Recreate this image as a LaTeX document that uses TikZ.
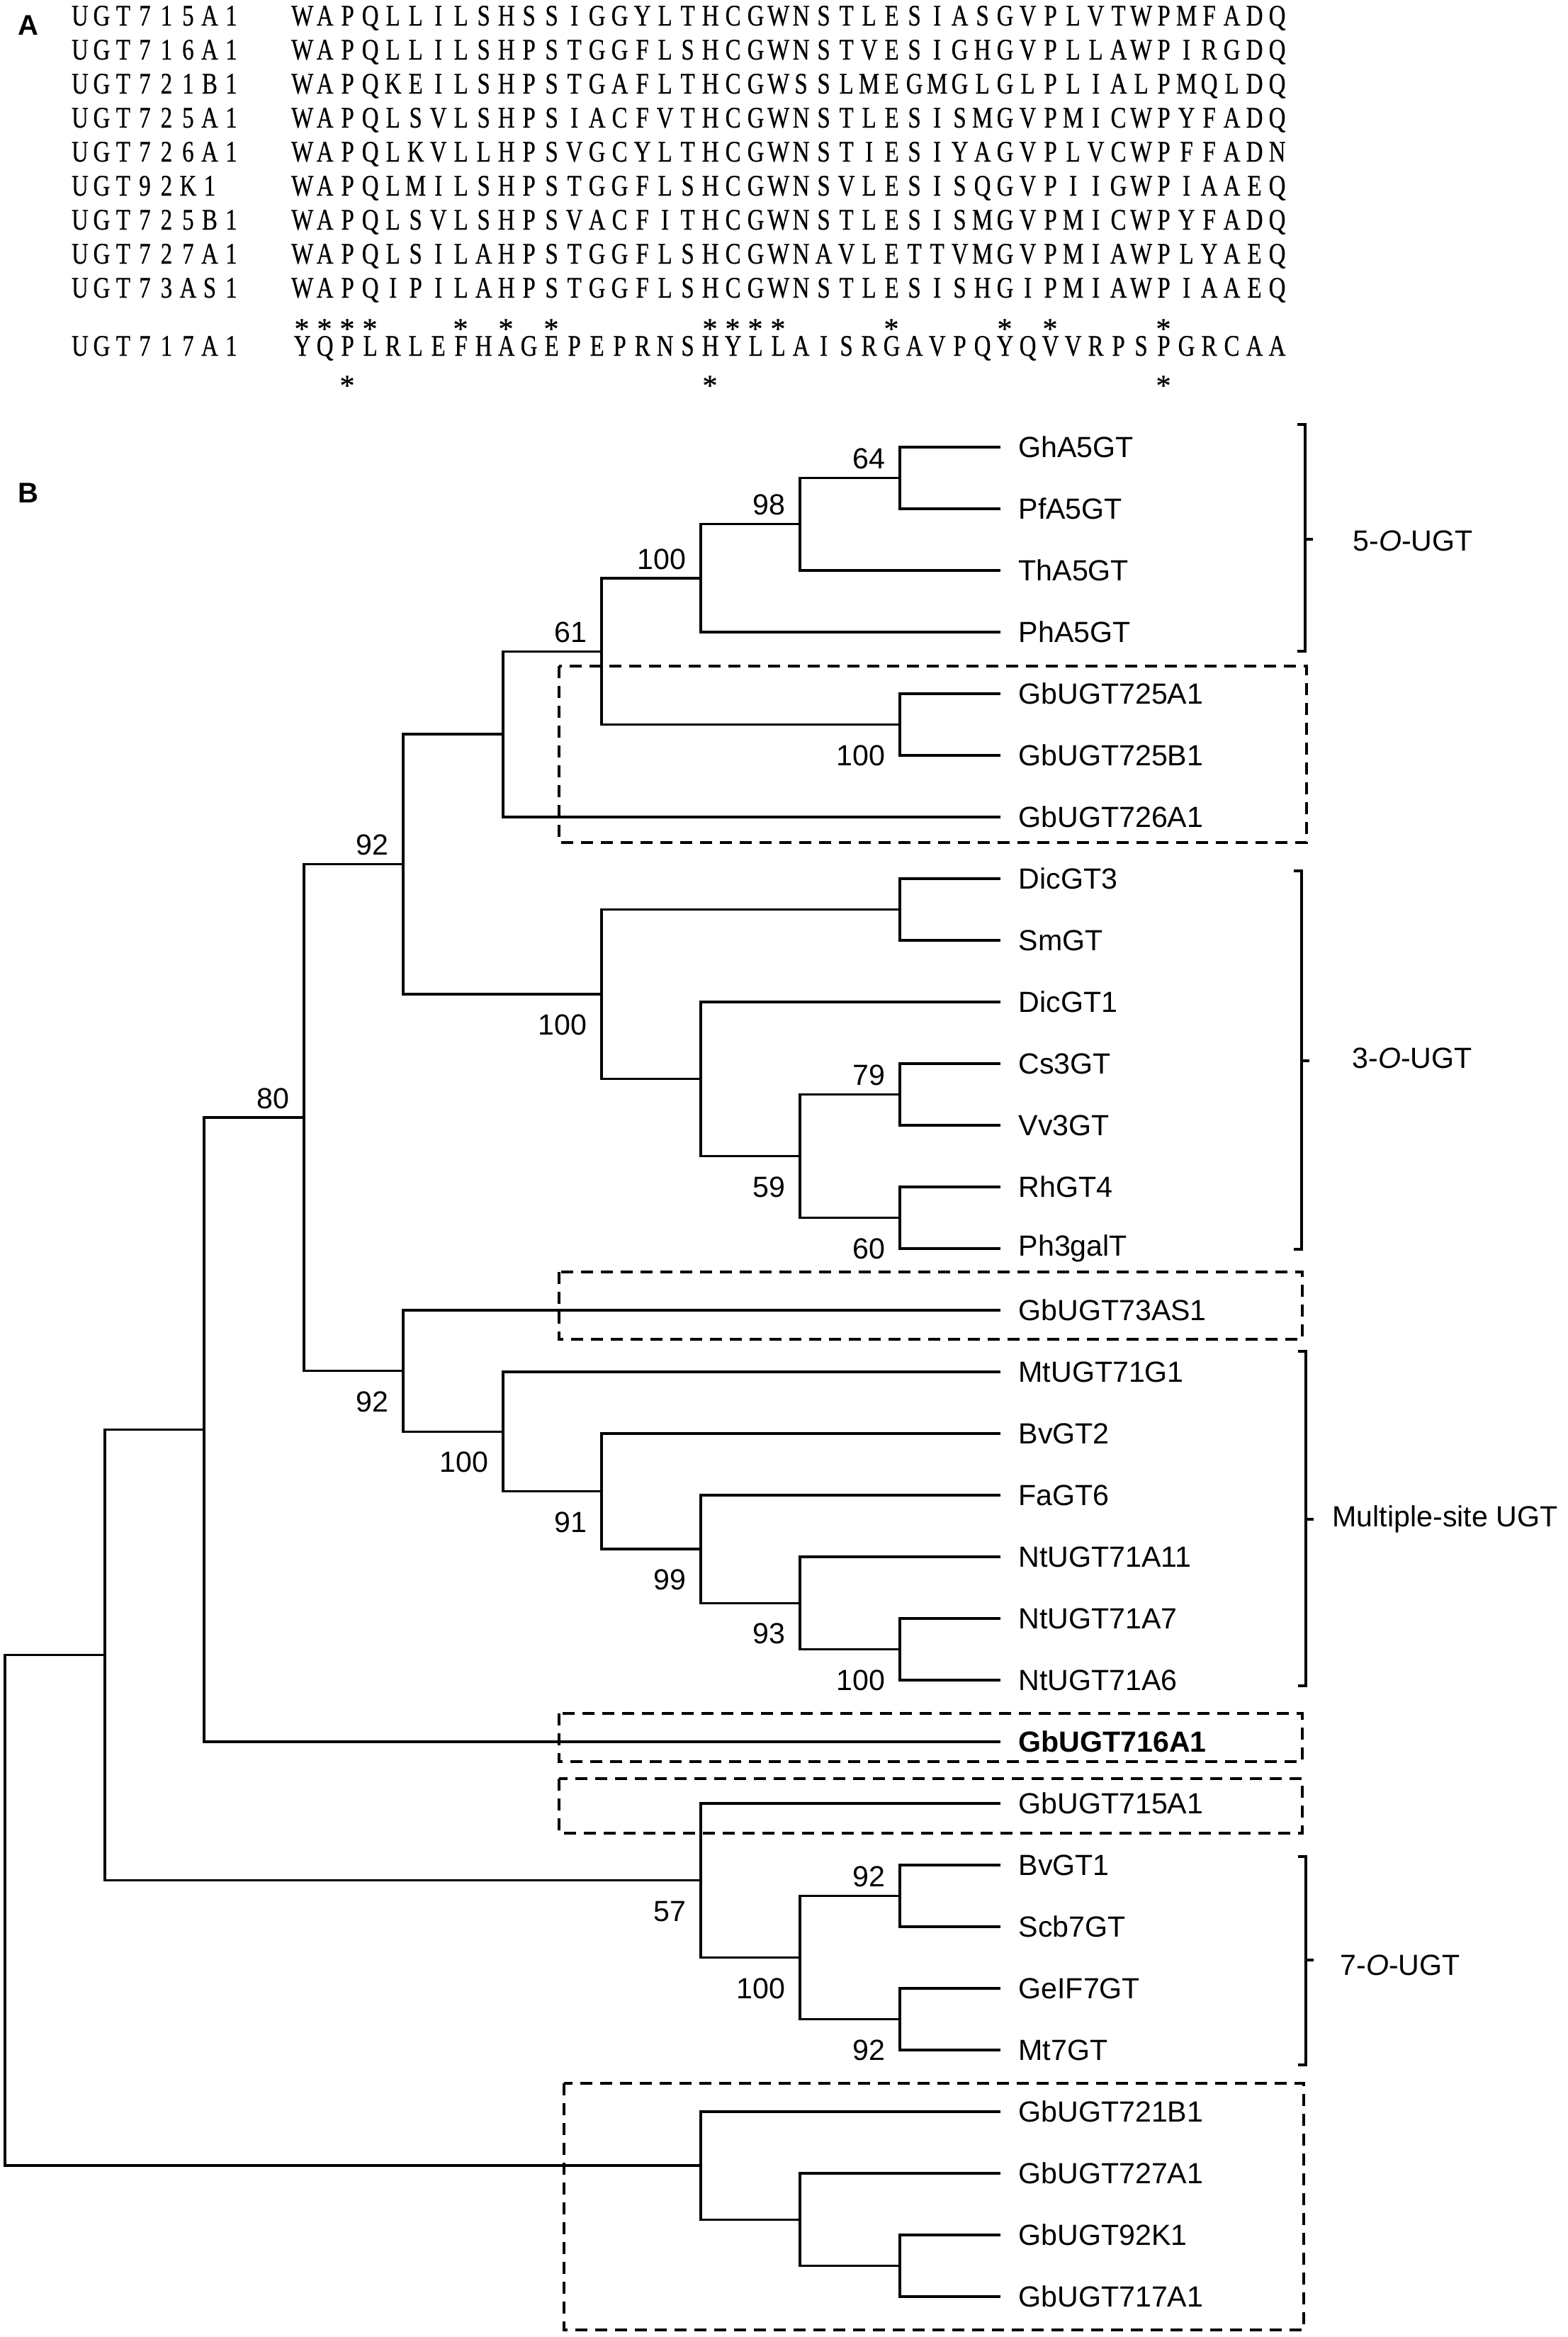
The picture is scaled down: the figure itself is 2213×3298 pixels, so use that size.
\documentclass[tikz,border=0pt]{standalone}
\usepackage{fontspec}
\setmainfont{Liberation Sans}
\newfontfamily\seqfont[FakeStretch=0.78,FakeBold=0.5]{Liberation Serif}
\newfontfamily\starfont[FakeBold=0.5]{Liberation Serif}
\usetikzlibrary{calc}
% fixed-width cells for the alignment letters
\newcommand\seqcells[2][3.2mm]{\def\seqw{#1}\expandafter\seqloop#2\relax}
\def\seqloop#1{\ifx#1\relax\else\makebox[\seqw]{#1}\expandafter\seqloop\fi}
\tikzset{
  branch/.style={line width=0.95pt},
  leaf/.style={anchor=west, inner sep=0pt, font=\fontsize{11.7}{14}\selectfont},
  bs/.style={anchor=east, inner sep=0pt, font=\fontsize{11.7}{14}\selectfont},
  gbbox/.style={line width=1.1pt, dash pattern=on 1.7mm off 1.1mm},
  brk/.style={line width=0.95pt},
  grp/.style={anchor=west, inner sep=0pt, font=\fontsize{11.7}{14}\selectfont},
  seqtxt/.style={anchor=base west, inner sep=0pt, font=\seqfont\fontsize{12}{14}\selectfont},
  star/.style={anchor=base, inner sep=0pt, font=\starfont\fontsize{12}{14}\selectfont},
  panel/.style={anchor=west, inner sep=0pt, font=\bfseries\fontsize{11.4}{14}\selectfont},
}

\begin{document}
\begin{tikzpicture}[x=0.1mm,y=-0.1mm]

\fill[white] (0,0) rectangle (2213,3298);
\useasboundingbox (0,0) rectangle (2213,3298);

% ---------- A: alignment ----------
\node[panel] (pa) at (25,35.5) {A};
\foreach \nm/\sq [count=\k from 0] in {
  UGT715A1/WAPQLLILSHSSIGGYLTHCGWNSTLESIASGVPLVTWPMFADQ,
  UGT716A1/WAPQLLILSHPSTGGFLSHCGWNSTVESIGHGVPLLAWPIRGDQ,
  UGT721B1/WAPQKEILSHPSTGAFLTHCGWSSLMEGMGLGLPLIALPMQLDQ,
  UGT725A1/WAPQLSVLSHPSIACFVTHCGWNSTLESISMGVPMICWPYFADQ,
  UGT726A1/WAPQLKVLLHPSVGCYLTHCGWNSTIESIYAGVPLVCWPFFADN,
  UGT92K1/WAPQLMILSHPSTGGFLSHCGWNSVLESISQGVPIIGWPIAAEQ,
  UGT725B1/WAPQLSVLSHPSVACFITHCGWNSTLESISMGVPMICWPYFADQ,
  UGT727A1/WAPQLSILAHPSTGGFLSHCGWNAVLETTVMGVPMIAWPLYAEQ,
  UGT73AS1/WAPQIPILAHPSTGGFLSHCGWNSTLESISHGIPMIAWPIAAEQ} {
  \node[seqtxt] (s\k) at (97,36+48*\k) {\seqcells[3.05mm]{\nm}};
  \node[seqtxt] (q\k) at (410,36+48*\k) {\seqcells{\sq}};
}
\node[seqtxt] (s9) at (97,502) {\seqcells[3.05mm]{UGT717A1}};
\node[seqtxt] (q9) at (410,502) {\seqcells{YQPLRLEFHAGEPEPRNSHYLLAISRGAVPQYQVVRPSPGRCAA}};

% conserved sites
\foreach \c in {0,1,2,3,7,9,11,18,19,20,21,26,31,33,38}
  \node[star] (u\c) at (426+32*\c,478) {*};
\foreach \c in {2,18,38}
  \node[star] (d\c) at (426+32*\c,558) {*};

% ---------- B: tree ----------
\node[panel] (pb) at (25,696) {B};

% leaves
\foreach \nm [count=\i from 0] in {GhA5GT, PfA5GT, ThA5GT, PhA5GT,
  GbUGT725A1, GbUGT725B1, GbUGT726A1, DicGT3, SmGT, DicGT1, Cs3GT,
  Vv3GT, RhGT4, Ph3galT, GbUGT73AS1, MtUGT71G1, BvGT2, FaGT6,
  NtUGT71A11, NtUGT71A7, NtUGT71A6, {\textbf{GbUGT716A1}}, GbUGT715A1,
  BvGT1, Scb7GT, GeIF7GT, Mt7GT, GbUGT721B1, GbUGT727A1, GbUGT92K1,
  GbUGT717A1} {
  \coordinate (t\i) at (1412,631+87*\i);
  \node[leaf] (l\i) at (1437,631+87*\i) {\nm};
}

% inner nodes
\coordinate (n64)   at (1270,674.5);
\coordinate (n98)   at (1129,739.75);
\coordinate (n100a) at (989,815.9);
\coordinate (n100b) at (1270,1022.5);
\coordinate (n61)   at (849,919.2);
\coordinate (n5)    at (710,1036.1);
\coordinate (ndic)  at (1270,1283.5);
\coordinate (n79)   at (1270,1544.5);
\coordinate (n60)   at (1270,1718.5);
\coordinate (n59)   at (1129,1631.5);
\coordinate (n7)    at (989,1522.75);
\coordinate (n100c) at (849,1403.1);
\coordinate (n92a)  at (569,1219.6);
\coordinate (n100e) at (1270,2327.5);
\coordinate (n93)   at (1129,2262.25);
\coordinate (n99)   at (989,2186.1);
\coordinate (n91)   at (849,2104.55);
\coordinate (n100d) at (710,2020.3);
\coordinate (n92b)  at (569,1934.6);
\coordinate (n80)   at (429,1577.1);
\coordinate (n2)    at (288,2017.55);
\coordinate (n92c)  at (1270,2675.5);
\coordinate (n92d)  at (1270,2849.5);
\coordinate (n100f) at (1129,2762.5);
\coordinate (n57)   at (989,2653.75);
\coordinate (n1)    at (148,2335.65);
\coordinate (ng3)   at (1270,3197.5);
\coordinate (ng2)   at (1129,3132.25);
\coordinate (ng1)   at (989,3056.1);
\coordinate (root)  at (7,2695.9);

% branches
\foreach \p/\c in {root/n1, root/ng1, n1/n2, n1/n57, n2/n80, n2/t21,
  n80/n92a, n80/n92b, n92a/n5, n92a/n100c, n5/n61, n5/t6,
  n61/n100a, n61/n100b, n100a/n98, n100a/t3, n98/n64, n98/t2,
  n64/t0, n64/t1, n100b/t4, n100b/t5, n100c/ndic, n100c/n7,
  ndic/t7, ndic/t8, n7/t9, n7/n59, n59/n79, n59/n60,
  n79/t10, n79/t11, n60/t12, n60/t13, n92b/t14, n92b/n100d,
  n100d/t15, n100d/n91, n91/t16, n91/n99, n99/t17, n99/n93,
  n93/t18, n93/n100e, n100e/t19, n100e/t20, n57/t22, n57/n100f,
  n100f/n92c, n100f/n92d, n92c/t23, n92c/t24, n92d/t25, n92d/t26,
  ng1/t27, ng1/ng2, ng2/t28, ng2/ng3, ng3/t29, ng3/t30}
  \draw[branch] (\p) |- (\c);

% bootstrap values
\foreach \n/\v in {n64/64, n98/98, n100a/100, n61/61, n92a/92, n80/80,
  n79/79, n92c/92}
  \node[bs] (b\n) at ($(\n)+(-20,-27)$) {\v};
\foreach \n/\v in {n100b/100, n100c/100, n59/59, n60/60, n92b/92,
  n100d/100, n91/91, n99/99, n93/93, n100e/100, n57/57, n100f/100,
  n92d/92}
  \node[bs] (b\n) at ($(\n)+(-20,43.5)$) {\v};

% Ginkgo boxes
\draw[gbbox] (789,940) rectangle (1844,1189);
\draw[gbbox] (789,1795) rectangle (1838,1890);
\draw[gbbox] (789,2418) rectangle (1838,2486);
\draw[gbbox] (789,2510) rectangle (1838,2587);
\draw[gbbox] (796,2940) rectangle (1840,3288);

% groups
\foreach \bx/\bt/\bb/\bm/\lx/\ly/\lab [count=\g] in {
  1842/599/919/761/1909/763/{5-\textit{O}-UGT},
  1837/1229/1763/1497/1908/1493/{3-\textit{O}-UGT},
  1843/1907/2379/2144/1880/2144/{Multiple-site UGT},
  1843/2620/2914/2766/1891/2773/{7-\textit{O}-UGT}} {
  \draw[brk] (\bx-11,\bt) -- (\bx,\bt) -- (\bx,\bb) -- (\bx-11,\bb);
  \draw[brk] (\bx,\bm) -- (\bx+11,\bm);
  \node[grp] (g\g) at (\lx,\ly) {\lab};
}

\end{tikzpicture}
\end{document}
